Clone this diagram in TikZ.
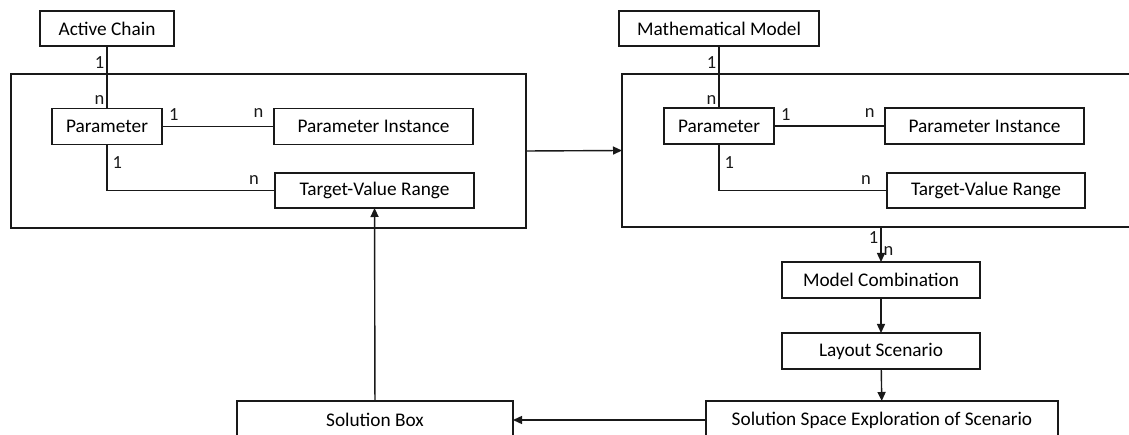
\documentclass[tikz,border=0pt]{standalone}
\usepackage{fontspec}
\setmainfont{Carlito}
\usepackage{tikz}
\usetikzlibrary{arrows.meta}
\usetikzlibrary{positioning}
\definecolor{lineColor}{rgb}{0.1,0.1,0.1}
\tikzset{
  mybox/.style={draw=lineColor, line width=1.4pt, rectangle, inner sep=0pt, outer sep=0pt, minimum height=36pt},
  myframe/.style={draw=lineColor, line width=1.4pt, rectangle, inner sep=0pt, outer sep=0pt},
  myline/.style={color=lineColor, line width=1.4pt},
  myarrow/.style={myline, -{Triangle[length=9pt,width=8pt]}},
  mycard/.style={inner sep=2pt, font=\fontsize{18.5}{20}\selectfont}
}

\begin{document}
\begin{tikzpicture}[x=1pt, y=-1pt, font=\fontsize{19.3}{23}\selectfont]
\clip (0,0) rectangle (1129,435);
\fill[white] (0,0) rectangle (1129,435);

\begin{scope}
  \node[myframe, minimum width=515pt, minimum height=154pt] (frameL) at (268.5,151){};
  \node[mybox, minimum width=134pt, minimum height=35pt] (chain) at (107,28.5){Active Chain};
  \node[mybox, minimum width=110pt] (parL) at (107,126.5){Parameter};
  \node[mybox, minimum width=199pt] (instL) at (373.5,126.5){Parameter Instance};
  \node[mybox, minimum width=199pt, minimum height=35pt] (rangeL) at (374.5,190.5){Target-Value Range};
  \draw[myline] (chain) -- node[mycard, pos=0.26, left]{1} node[mycard, pos=0.87, left]{n} (parL);
  \draw[myline] (parL) -- node[mycard, pos=0.04, above right, yshift=3pt]{1} node[mycard, pos=0.93, above left, yshift=6pt]{n} (instL);
  \draw[myline] (parL.south) |- node[mycard, pos=0.2, right, xshift=3pt]{1} node[mycard, pos=0.96, above left, yshift=3pt]{n} (rangeL.west);
\end{scope}

\begin{scope}
  \node[myframe, minimum width=523pt, minimum height=153pt] (frameR) at (883.5,150.5){};
  \node[mybox, minimum width=200pt, minimum height=35pt] (model) at (719,28.5){Mathematical Model};
  \node[mybox, minimum width=110pt] (parR) at (719,126){Parameter};
  \node[mybox, minimum width=199pt] (instR) at (984.5,126){Parameter Instance};
  \node[mybox, minimum width=198pt, minimum height=35pt] (rangeR) at (986,190.5){Target-Value Range};
  \draw[myline] (model) -- node[mycard, pos=0.26, left]{1} node[mycard, pos=0.87, left]{n} (parR);
  \draw[myline] (parR) -- node[mycard, pos=0.04, above right, yshift=3pt]{1} node[mycard, pos=0.93, above left, yshift=6pt]{n} (instR);
  \draw[myline] (parR.south) |- node[mycard, pos=0.2, right, xshift=3pt]{1} node[mycard, pos=0.96, above left, yshift=3pt]{n} (rangeR.west);
\end{scope}

\node[mybox, minimum width=198pt] (combo) at (881,280){Model Combination};
\node[mybox, minimum width=198pt] (layout) at (881,351){Layout Scenario};
\node[mybox, minimum width=352pt, minimum height=38pt] (explore) at (882,420){Solution Space Exploration of Scenario};
\node[mybox, minimum width=276pt, minimum height=38pt] (solution) at (375,420){Solution Box};

\draw[myarrow] (frameL.east) -- (frameR.west);
\draw[myarrow] (frameR.south -| combo.north) -- node[mycard, pos=0.3, left]{1} node[mycard, pos=0.7, right]{n} (combo.north);
\draw[myarrow] (combo) -- (layout);
\draw[myarrow] (layout) -- (explore);
\draw[myarrow] (explore) -- (solution);
\draw[myarrow] (solution) -- (rangeL);
\end{tikzpicture}
\end{document}
